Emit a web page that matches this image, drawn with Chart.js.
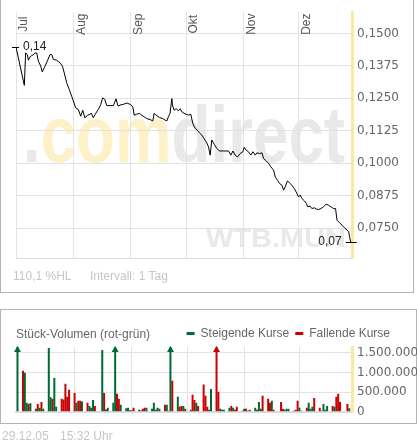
<!DOCTYPE html>
<html><head><meta charset="utf-8">
<script src="https://cdn.jsdelivr.net/npm/chart.js@4"></script>
<style>
html,body{margin:0;padding:0;background:#fff;}
#wrap{position:relative;width:417px;height:443px;overflow:hidden;font-family:"Liberation Sans",Arial,sans-serif;}
.frame{position:absolute;box-sizing:border-box;border:1px solid #b4b4b4;}
.txt{position:absolute;font-size:12px;line-height:14px;white-space:nowrap;}
canvas{position:absolute;left:0;}
</style></head>
<body><div id="wrap">
<div class="frame" style="left:0;top:-1px;width:414px;height:294px;"></div>
<div class="frame" style="left:0;top:309px;width:417px;height:115px;"></div>
<canvas id="price" width="417" height="293" style="top:0"></canvas>
<div class="txt" style="left:13px;top:269px;color:#c6c6c6">110,1 %HL</div>
<div class="txt" style="left:90px;top:269px;color:#c6c6c6">Intervall: 1 Tag</div>
<div class="txt" style="left:16px;top:327px;color:#666">Stück-Volumen (rot-grün)</div>
<canvas id="vol" width="417" height="114" style="top:310px"></canvas>
<div class="txt" style="left:2px;top:429px;color:#c6c6c6">29.12.05</div>
<div class="txt" style="left:60px;top:429px;color:#c6c6c6">15:32 Uhr</div>
</div>
<script>
// ---- data (x = calendar days since 1 Jul 2005) ----
const monthLabels = ['Jul','Aug','Sep','Okt','Nov','Dez'];
const monthStartDays = [0,31,62,92,123,153];
const priceTicks = [0.075,0.0875,0.1,0.1125,0.125,0.1375,0.15];
const volTicks = [0,250000,500000,750000,1000000,1250000,1500000];

const priceDays = [0,4.5,5.2,6.1,6.7,7.6,8.5,9.4,10.3,11.2,12.1,13.4,14.2,15.7,16.9,18.4,19.3,20.2,22,23.8,25.1,26.1,27.4,28.8,30.1,31.4,32.3,33.7,35,36.1,37.2,38.6,40.8,41.8,43.1,44.5,45.8,46.9,48,49.1,50.9,52.7,54.1,55.2,56.3,58.1,59.9,61.7,63.2,63.9,65.3,66.7,68,69.3,70.7,72.5,74,74.7,75.8,77.6,79.4,80.6,81.6,82.4,83.3,84.3,84.6,85.5,86.6,87.8,88.8,89.7,90.9,92,93.3,94.5,95.6,96.9,98.1,99.2,100.5,101.7,103.2,104.1,105,105.9,107.2,108.6,110,112.2,114.9,116.2,117.3,118.5,119.8,121.2,122.7,123.4,124.5,125.7,127,128.1,129.4,130.3,131.7,133,133.9,135.3,136.6,137.8,139.3,140.2,141.4,142.5,143.8,144.7,145.6,146.8,147.9,149.2,150.5,151.5,152.8,153.7,154.6,155.9,157,157.7,159.1,160,161.3,162.4,163.6,164.9,166.3,167.7,169,170.3,171.7,172.8,173.6,175,176.3,177.5,179,179.9,180.4,181];
const priceValues = [0.1448,0.1300,0.1425,0.1419,0.1397,0.1410,0.1415,0.1418,0.1425,0.1425,0.1393,0.1374,0.1352,0.1374,0.1393,0.1419,0.1419,0.1400,0.1397,0.1387,0.1374,0.1348,0.1310,0.1284,0.1258,0.1232,0.1213,0.1207,0.1181,0.1204,0.1175,0.1184,0.1192,0.1175,0.1192,0.1207,0.1226,0.1252,0.1246,0.1222,0.1222,0.1222,0.1248,0.1220,0.1224,0.1227,0.1232,0.1227,0.1217,0.1185,0.1189,0.1192,0.1185,0.1179,0.1172,0.1168,0.1163,0.1192,0.1185,0.1176,0.1172,0.1166,0.1163,0.1179,0.1192,0.1249,0.1224,0.1204,0.1210,0.1202,0.1210,0.1198,0.1192,0.1189,0.1185,0.1189,0.1153,0.1134,0.1127,0.1117,0.1108,0.1095,0.1078,0.1063,0.1031,0.1089,0.1073,0.1057,0.1047,0.1047,0.1047,0.1031,0.1047,0.1031,0.1024,0.1037,0.1044,0.1061,0.1050,0.1044,0.1031,0.1044,0.1031,0.1040,0.1037,0.1040,0.1018,0.1009,0.0999,0.0986,0.0973,0.0947,0.0934,0.0922,0.0915,0.0896,0.0909,0.0932,0.0924,0.0915,0.0902,0.0889,0.0870,0.0877,0.0864,0.0855,0.0845,0.0832,0.0834,0.0825,0.0828,0.0823,0.0821,0.0825,0.0832,0.0842,0.0838,0.0832,0.0825,0.0825,0.0780,0.0770,0.0761,0.0752,0.0742,0.0736,0.0716,0.0695];

const upDays = [0,4,5,7,10,12,14,17,18,20,21,32,35,39,40,41,46,48,49,52,53,56,59,60,62,66,67,70,73,74,76,77,81,83,87,90,94,97,104,105,110,111,112,115,117,122,123,125,129,131,132,138,145,146,147,153,154,158,159,160,165,166,167,168,172,180];
const upValues = [1900000,990000,230000,220000,76000,100000,76000,1620000,370000,860000,127000,230000,260000,150000,100000,300000,1570000,60000,100000,230000,1900000,180000,90000,100000,42000,50000,35000,100000,76000,230000,100000,76000,180000,1900000,380000,150000,50000,230000,50000,580000,76000,50000,50000,100000,100000,25000,76000,25000,100000,250000,76000,280000,50000,76000,76000,100000,25000,230000,76000,127000,25000,200000,50000,150000,127000,90000];
const downDays = [3,6,11,13,19,24,25,26,27,28,31,33,34,38,42,47,54,55,61,63,68,69,75,80,82,84,88,89,91,95,96,98,101,102,103,108,109,116,118,119,124,126,130,133,136,137,139,140,143,144,150,151,152,157,161,164,171,173,174,175,179];
const downValues = [1040000,200000,200000,250000,330000,330000,313000,710000,380000,560000,480000,280000,280000,230000,150000,480000,460000,330000,42000,100000,76000,100000,50000,180000,25000,790000,127000,150000,76000,430000,300000,150000,690000,410000,127000,1900000,510000,150000,50000,127000,76000,50000,50000,410000,330000,230000,50000,15000,250000,76000,25000,50000,280000,100000,350000,100000,150000,380000,460000,250000,200000];

// ---- styling ----
const SANS = '"Liberation Sans", Arial, sans-serif';
const AXISFONT = 'DejaVu Sans';
const GRID = '#e3e3e3';
const YELLOW = '#fbe8a2';
const GREEN = '#006a35';
const RED = '#cc0000';
Chart.defaults.font.family = SANS;

const watermark = {
  id: 'watermark',
  beforeDraw(chart) {
    const {ctx, chartArea: a} = chart;
    ctx.save();
    ctx.font = 'bold 80px ' + SANS;
    ctx.textBaseline = 'alphabetic';
    const parts = [['.', '#e9e9e9'], ['com', '#fdf1c8'], ['direct', '#e9e9e9']];
    const total = parts.reduce((s, p) => s + ctx.measureText(p[0]).width, 0);
    ctx.translate(a.left + 7, a.top + 150);
    ctx.scale(322 / total, 1);
    let x = 0;
    for (const [t, c] of parts) { ctx.fillStyle = c; ctx.fillText(t, x, 0); x += ctx.measureText(t).width; }
    ctx.restore();
    ctx.save();
    ctx.font = 'bold 26px ' + SANS;
    const w = ctx.measureText('WTB.MUN').width;
    ctx.translate(a.right - 146, a.bottom - 11.5);
    ctx.scale(140 / w, 1);
    ctx.fillStyle = '#e9e9e9';
    ctx.fillText('WTB.MUN', 0, 0);
    ctx.restore();
  }
};

const monthText = {
  id: 'monthText',
  beforeDatasetsDraw(chart) {
    const {ctx, chartArea: a, scales: {x}} = chart;
    ctx.save();
    ctx.font = '12px ' + SANS;
    ctx.fillStyle = '#555';
    ctx.textAlign = 'center';
    ctx.textBaseline = 'top';
    monthStartDays.forEach((d, i) => {
      const px = x.getPixelForValue(d);
      ctx.save();
      ctx.translate(px + 2, a.top + 12);
      ctx.rotate(-Math.PI / 2);
      ctx.fillText(monthLabels[i], 0, 0);
      ctx.restore();
    });
    ctx.restore();
  }
};

const extremes = {
  id: 'extremes',
  afterDatasetsDraw(chart) {
    const {ctx} = chart;
    const pts = chart.getDatasetMeta(0).data;
    let iMax = 0, iMin = 0;
    priceValues.forEach((v, i) => { if (v > priceValues[iMax]) iMax = i; if (v < priceValues[iMin]) iMin = i; });
    const fmt = v => v.toFixed(2).replace('.', ',');
    ctx.save();
    ctx.strokeStyle = '#000'; ctx.lineWidth = 1;
    ctx.font = '12px ' + SANS; ctx.fillStyle = '#222'; ctx.textBaseline = 'middle';
    let p = pts[iMax], y = Math.round(p.y) + 0.5;
    ctx.beginPath(); ctx.moveTo(p.x - 4, y); ctx.lineTo(p.x + 3, y); ctx.stroke();
    ctx.textAlign = 'left'; ctx.fillText(fmt(priceValues[iMax]), p.x + 7, y - 1);
    p = pts[iMin]; y = Math.round(p.y) + 0.5;
    ctx.beginPath(); ctx.moveTo(p.x - 5, y); ctx.lineTo(p.x + 6, y); ctx.stroke();
    ctx.textAlign = 'right'; ctx.fillText(fmt(priceValues[iMin]), p.x - 9, y - 1);
    ctx.restore();
  }
};

const arrows = {
  id: 'arrows',
  afterDatasetsDraw(chart) {
    const {ctx, chartArea: a, scales: {y}} = chart;
    ctx.save();
    chart.data.datasets.forEach((ds, di) => {
      chart.getDatasetMeta(di).data.forEach((el, j) => {
        if (ds.data[j].y > y.max) {
          const x = el.x;
          ctx.fillStyle = ds.backgroundColor;
          ctx.beginPath();
          ctx.moveTo(x, a.top - 1);
          ctx.lineTo(x + 3.5, a.top + 5);
          ctx.lineTo(x - 3.5, a.top + 5);
          ctx.closePath();
          ctx.fill();
        }
      });
    });
    ctx.restore();
  }
};

// keep the legend right-aligned a little inside the panel, on the title's line
const legendPlace = {
  id: 'legendPlace',
  afterLayout(chart) {
    const l = chart.legend;
    if (!l) return;
    l.right -= 21;
    l.top += 2.5;
    l.bottom += 2.5;
  }
};

new Chart(document.getElementById('price'), {
  type: 'line',
  data: { datasets: [{
    data: priceDays.map((d, i) => ({x: d, y: priceValues[i]})),
    borderColor: '#000', borderWidth: 1, pointRadius: 0, tension: 0, fill: false
  }]},
  options: {
    responsive: false, animation: false, devicePixelRatio: 1,
    layout: { padding: { left: 16, top: 12, bottom: 35, right: 0 } },
    plugins: { legend: { display: false }, tooltip: { enabled: false } },
    scales: {
      x: {
        type: 'linear', min: 0, max: 181.7,
        afterBuildTicks: s => { s.ticks = monthStartDays.map(v => ({value: v})); },
        ticks: { display: false },
        grid: { color: GRID, drawTicks: false },
        border: { color: '#dcdcdc', width: 1 }
      },
      y: {
        position: 'right', min: 0.06344, max: 0.15821,
        afterBuildTicks: s => { s.ticks = priceTicks.map(v => ({value: v})); },
        afterFit: s => { s.width = 65; },
        ticks: { callback: v => v.toFixed(4).replace('.', ','), font: { family: AXISFONT, size: 12 }, color: '#666', padding: 5 },
        grid: { color: GRID, drawTicks: false },
        border: { color: YELLOW, width: 3 }
      }
    }
  },
  plugins: [watermark, monthText, extremes]
});

new Chart(document.getElementById('vol'), {
  type: 'bar',
  data: { datasets: [
    { label: 'Steigende Kurse', data: upDays.map((d, i) => ({x: d, y: upValues[i]})), backgroundColor: GREEN, barThickness: 2, inflateAmount: 0, grouped: false },
    { label: 'Fallende Kurse', data: downDays.map((d, i) => ({x: d, y: downValues[i]})), backgroundColor: RED, barThickness: 2, inflateAmount: 0, grouped: false }
  ]},
  options: {
    responsive: false, animation: false, devicePixelRatio: 1,
    layout: { padding: { left: 16, top: 9, bottom: 10, right: 0 } },
    plugins: {
      tooltip: { enabled: false },
      legend: { position: 'top', align: 'end',
        labels: { boxWidth: 8, boxHeight: 3, padding: 6, color: '#666', font: { family: SANS, size: 12 } } }
    },
    scales: {
      x: {
        type: 'linear', min: -0.8, max: 181.5, offset: false,
        afterBuildTicks: s => { s.ticks = monthStartDays.map(v => ({value: v})); },
        ticks: { display: false },
        grid: { color: GRID, drawTicks: false, offset: false },
        border: { color: '#dddddd', width: 2 }
      },
      y: {
        position: 'right', min: 0, max: 1644000,
        afterBuildTicks: s => { s.ticks = volTicks.map(v => ({value: v})); },
        afterFit: s => { s.width = 65; },
        ticks: { callback: v => (v % 500000 === 0) ? String(v).replace(/\B(?=(\d{3})+(?!\d))/g, '.') : '',
                 font: { family: AXISFONT, size: 12 }, color: '#666', padding: 5 },
        grid: { color: GRID, drawTicks: false },
        border: { color: YELLOW, width: 3 }
      }
    }
  },
  plugins: [arrows, legendPlace]
});
</script>
</body></html>
